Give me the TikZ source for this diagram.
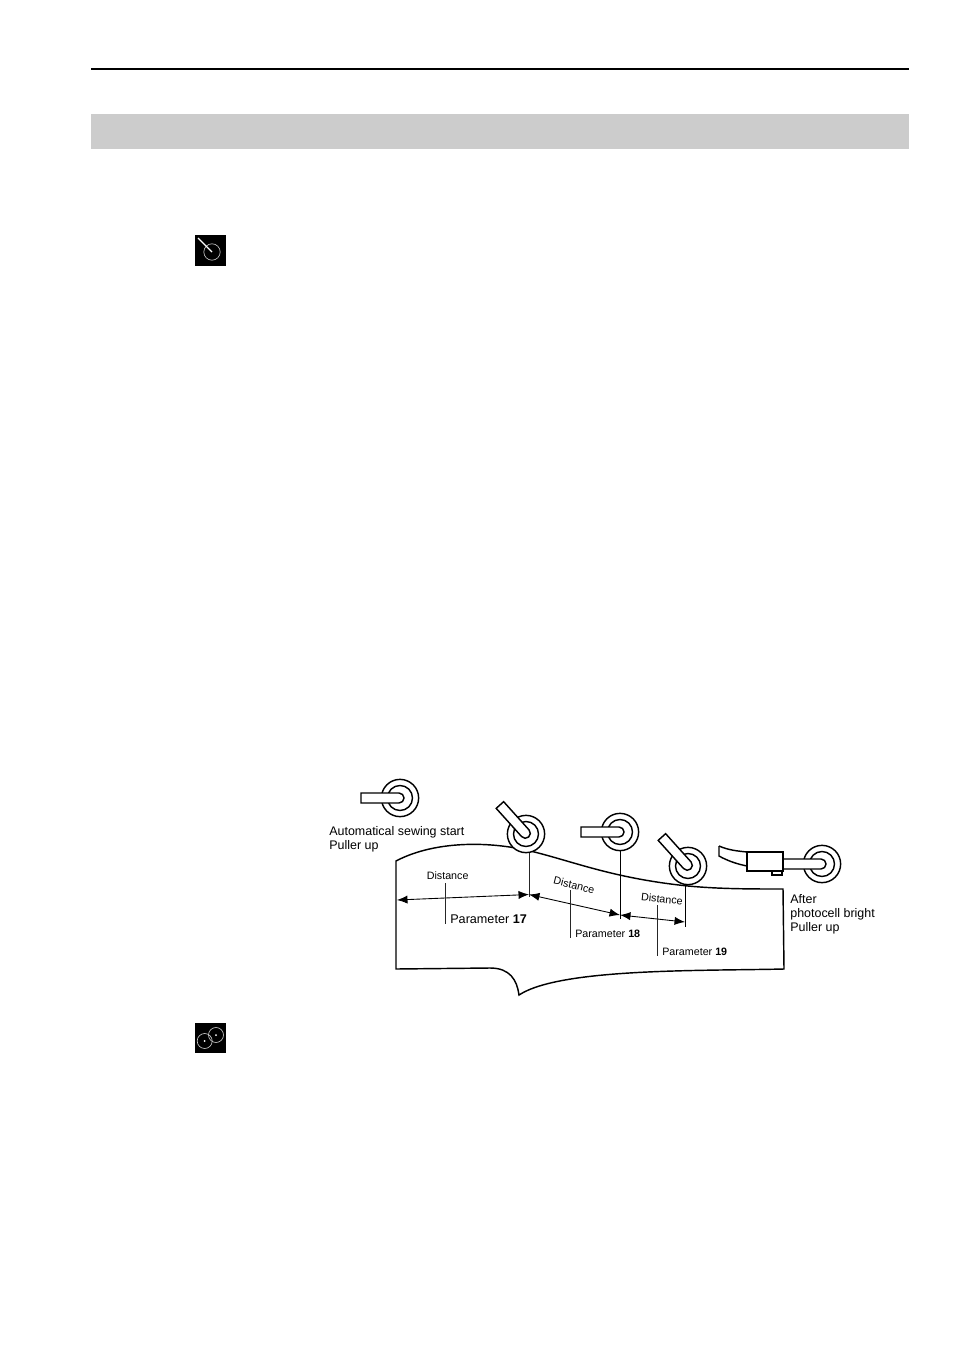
\documentclass[tikz,border=0pt]{standalone}
\usepackage{fontspec}
\setmainfont{Liberation Sans}
\usetikzlibrary{arrows.meta}
\tikzset{
  outer/.style={circle, draw, line width=0.9pt, fill=white, minimum size=8.2mm, inner sep=0pt},
  inner/.style={circle, draw, line width=0.9pt, minimum size=5.5mm, inner sep=0pt},
  arm/.style={draw, line width=0.9pt, fill=white},
  lead/.style={line width=0.55pt, black!85},
  dim/.style={line width=0.55pt, {Latex[length=2.3mm,width=1.8mm]}-{Latex[length=2.3mm,width=1.8mm]}},
  big/.style={font=\fontsize{7.8}{8.9}\selectfont, align=left, anchor=west, inner sep=0pt},
  small/.style={font=\fontsize{6.7}{8}\selectfont, anchor=west, inner sep=0pt},
  icon/.style={fill=black, minimum size=6.8mm, inner sep=0pt},
  ring/.style={circle, draw=white!80!black, line width=0.4pt, minimum size=3.3mm, inner sep=0pt}
}
\begin{document}
\begin{tikzpicture}[x=0.22mm, y=-0.22mm]
\useasboundingbox (0,0) rectangle (954,1351);
% header
\coordinate (ruleL) at (91,69);
\coordinate (ruleR) at (909,69);
\draw[line width=0.9pt] (ruleL) -- (ruleR);
\fill[black!20] (91,114) rectangle (909,149);

% icons
\node[icon] (iconA) at (210.5,250.5){};
\node[ring, minimum size=3.6mm] (ringA) at (212,252){};
\coordinate (handA) at (198,238);
\draw[white, line width=0.8pt] (handA) -- (ringA.center);
\node[icon] (iconB) at (210.5,1038){};
\node[ring] (ringB) at (204.7,1041){};
\node[ring] (ringC) at (216,1035){};
\fill[white] (ringB.center) circle (1);
\fill[white] (ringC.center) circle (1);

% workpiece
\draw[line width=0.9pt] (396,969) -- (396,861) .. controls (430,843) and (480,840) .. (526,850)
  .. controls (570,860) and (610,878) .. (688,886) .. controls (720,889) and (750,889) .. (783,889)
  -- (784,969) .. controls (700,971) and (560,968) .. (519,995)
  .. controls (517,980) and (510,968) .. (490,968) -- cycle;

% rollers
\node[outer] (rollA) at (400,798){};
\node[inner] (innA) at (400,798){};
\draw[arm, shift={(400,798)}] (-39,-5) -- (-1,-5) arc[start angle=-90, end angle=90, radius=5] -- (-39,5) -- cycle;
\node[outer] (rollB) at (526,834){};
\node[inner] (innB) at (526,834){};
\draw[arm, shift={(526,834)}, rotate=-48] (-39,-5) -- (-1,-5) arc[start angle=-90, end angle=90, radius=5] -- (-39,5) -- cycle;
\node[outer] (rollC) at (620,832){};
\node[inner] (innC) at (620,832){};
\draw[arm, shift={(620,832)}] (-39,-5) -- (-1,-5) arc[start angle=-90, end angle=90, radius=5] -- (-39,5) -- cycle;
\node[outer] (rollD) at (688,866){};
\node[inner] (innD) at (688,866){};
\draw[arm, shift={(688,866)}, rotate=-48] (-39,-5) -- (-1,-5) arc[start angle=-90, end angle=90, radius=5] -- (-39,5) -- cycle;
\node[outer] (rollE) at (822,864){};
\node[inner] (innE) at (822,864){};
\draw[arm, shift={(822,864)}] (-39,-5) -- (-1,-5) arc[start angle=-90, end angle=90, radius=5] -- (-39,5) -- cycle;

% photocell
\draw[line width=0.9pt] (719,846) .. controls (728,850) and (737,851) .. (747,852);
\draw[line width=0.9pt] (719,846) -- (719,856) .. controls (728,861) and (737,864) .. (747,866);
\draw[arm] (772,871) rectangle (782,875);
\draw[arm] (747,852) rectangle (783,871);

% dimension lines
\coordinate (dimA) at (397,900);
\coordinate (dimB) at (529,894.5);
\coordinate (dimC) at (620,915);
\coordinate (dimD) at (685,922);
\coordinate (topB) at (529,853);
\coordinate (topC) at (620,851);
\coordinate (topD) at (685,885);
\coordinate (stopB) at (529,897);
\coordinate (stopC) at (620,919);
\coordinate (stopD) at (685,927);
\draw[lead] (topB) -- (stopB);
\draw[lead, black] (topC) -- (stopC);
\draw[lead, black] (topD) -- (stopD);
\draw[dim] (dimA) -- (dimB);
\draw[dim] (dimB) -- (dimC);
\draw[dim] (dimC) -- (dimD);

% labels
\node[big] (start) at (329,839){Automatical sewing start\\Puller up};
\node[big] (after) at (790,914.5){After\\photocell bright\\Puller up};
\node[small] (distA) at (426.5,876){Distance};
\node[small, rotate=-14, anchor=center] (distB) at (574,885){Distance};
\node[small, rotate=-6, anchor=center] (distC) at (662,899){Distance};
\node[big, font=\fontsize{7.9}{9.5}\selectfont] (parA) at (450,919){Parameter \textbf{17}};
\node[small] (parB) at (575,934){Parameter \textbf{18}};
\node[small] (parC) at (662,952){Parameter \textbf{19}};
\coordinate (tickA) at (445,883);
\coordinate (tickAe) at (445,924);
\coordinate (tickB) at (570,890);
\coordinate (tickBe) at (570,938);
\coordinate (tickC) at (657,905);
\coordinate (tickCe) at (657,956);
\draw[lead] (tickA) -- (tickAe);
\draw[lead] (tickB) -- (tickBe);
\draw[lead] (tickC) -- (tickCe);
\end{tikzpicture}
\end{document}
